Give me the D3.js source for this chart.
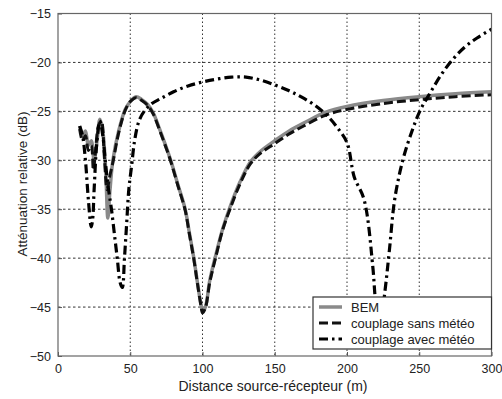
<!DOCTYPE html>
<html>
<head>
<meta charset="utf-8">
<title>Atténuation relative</title>
<script src="https://d3js.org/d3.v7.min.js"></script>
<style>
  body { margin: 0; background: #fff; }
  text { font-family: "Liberation Sans", Arial, sans-serif; fill: #222; }
</style>
</head>
<body>
<div id="chart"></div>
<script>
// donnees
let xTicks = [0, 50, 100, 150, 200, 250, 300];
let yTicks = [-50, -45, -40, -35, -30, -25, -20, -15];

let xBem = [15, 17, 19, 21, 23, 25, 27, 29, 31, 33, 34.5, 36, 38, 42, 46.5, 50, 54, 58, 62, 66, 70, 74, 78, 83, 88, 91, 94, 96.5, 99, 100,
            102, 105, 109, 114, 119, 126, 133, 140, 150, 160, 170, 185, 200, 225, 250, 275, 300];
let yBem = [-26.5, -27.5, -27, -28.5, -28, -30, -28, -25.8, -27, -31, -35.9, -33, -30, -27, -24.8, -24, -23.5, -23.8, -24.3, -25.2, -26.7, -28.3, -30, -32.5, -35, -37.5, -40, -42.5, -44.8, -45.4,
            -45, -42.3, -39.8, -37, -34.8, -32.2, -30.2, -29.1, -28, -27, -26.2, -25.1, -24.5, -23.9, -23.5, -23.2, -23.0];

let xSans = [15, 17, 19, 21, 23, 24.5, 26, 28, 30, 32, 34, 36, 38, 42, 46.5, 50, 54, 58, 62, 66, 70, 74, 78, 83, 88, 91, 94, 96.5, 99, 100,
             102, 105, 109, 114, 119, 126, 133, 140, 150, 160, 170, 185, 200, 225, 250, 275, 300];
let ySans = [-26.8, -28, -27.5, -29, -28.5, -31, -29, -26.5, -26, -29.5, -33, -31.5, -30.2, -27.2, -24.9, -24, -23.6, -23.9, -24.4, -25.3, -26.8, -28.4, -30.1, -32.6, -35.1, -37.6, -40.1, -42.6, -44.9, -45.6,
             -45.1, -42.5, -40, -37.1, -35, -32.4, -30.4, -29.3, -28.3, -27.3, -26.5, -25.4, -24.8, -24.2, -23.8, -23.5, -23.3];

let xAvec = [15, 17, 19, 21, 23, 24, 25, 27, 29, 31, 33, 35, 37, 39, 41, 43, 44.5, 46, 47.5, 49, 51, 53, 56, 59.6, 65, 71, 80, 90, 100,
             110, 120, 130, 140, 150, 160, 168, 177, 186, 193, 200, 205, 211.8, 217.8, 219.4, 222, 226.4, 229.4, 233, 238.6, 245, 251, 258, 265, 272, 281, 290, 300];
let yAvec = [-26.5, -27.5, -30, -34, -36.8, -36, -33, -28, -26, -27.5, -30.5, -33, -35, -37.5, -40, -42.5, -43, -40, -36.5, -33, -30.5, -28, -26, -25, -24.2, -23.7, -23, -22.4, -22,
             -21.7, -21.5, -21.5, -21.8, -22.3, -22.9, -23.5, -24.3, -25.4, -26.6, -28.2, -31.7, -34, -40.8, -43.9, -48, -43.2, -39.1, -34, -30, -27, -24.8, -23, -21.3, -19.9, -18.5, -17.5, -16.6];

let seriesNames = ["BEM", "couplage sans météo", "couplage avec météo"];

let margin = {top: 13.5, right: 10.5, bottom: 43, left: 58};
let W = 502, H = 399;
let w = W - margin.left - margin.right;
let h = H - margin.top - margin.bottom;

let svg = d3.select("#chart")
    .append("svg")
        .attr("width", W)
        .attr("height", H);

let g = svg.append("g")
    .attr("transform", "translate(" + margin.left + "," + margin.top + ")");

let xScale = d3.scaleLinear().domain([0, 300]).range([0, w]);
let yScale = d3.scaleLinear().domain([-50, -15]).range([h, 0]);

// grille pointillee
g.append("g")
    .selectAll("line")
    .data(xTicks.slice(1, -1))
    .enter().append("line")
    .attr("x1", d => xScale(d)).attr("x2", d => xScale(d))
    .attr("y1", 0).attr("y2", h)
    .attr("stroke", "#333").attr("stroke-width", 1)
    .attr("stroke-dasharray", "1.5,2.5");

g.append("g")
    .selectAll("line")
    .data(yTicks.slice(1, -1))
    .enter().append("line")
    .attr("y1", d => yScale(d)).attr("y2", d => yScale(d))
    .attr("x1", 0).attr("x2", w)
    .attr("stroke", "#333").attr("stroke-width", 1)
    .attr("stroke-dasharray", "2.5,2.5");

// axes
let xAxis = d3.axisBottom(xScale).tickValues(xTicks).tickSize(-4).tickPadding(8);
let yAxis = d3.axisLeft(yScale).tickValues(yTicks).tickSize(-4).tickPadding(7);

let gx = g.append("g")
    .attr("transform", "translate(0," + h + ")")
    .call(xAxis);
let gy = g.append("g").call(yAxis);

[gx, gy].forEach(function(a) {
    a.select(".domain").remove();
    a.selectAll("line").attr("stroke", "#555");
    a.selectAll("text")
        .attr("font-size", "12.5px")
        .style("font-family", "'Liberation Sans', Arial, sans-serif")
        .attr("fill", "#333");
});

// courbes
g.append("clipPath").attr("id", "clip")
    .append("rect").attr("width", w).attr("height", h);

let line = d3.line()
    .curve(d3.curveCatmullRom.alpha(0.5))
    .x(d => xScale(d[0]))
    .y(d => yScale(d[1]));

let curves = g.append("g").attr("clip-path", "url(#clip)");

curves.append("path")
    .datum(d3.zip(xBem, yBem))
    .attr("d", line)
    .attr("fill", "none")
    .attr("stroke", "#8a8a8a")
    .attr("stroke-width", 3.5)
    .attr("stroke-linejoin", "round");

curves.append("path")
    .datum(d3.zip(xSans, ySans))
    .attr("d", line)
    .attr("fill", "none")
    .attr("stroke", "#111")
    .attr("stroke-width", 3)
    .attr("stroke-dasharray", "9,4");

curves.append("path")
    .datum(d3.zip(xAvec, yAvec))
    .attr("d", line)
    .attr("fill", "none")
    .attr("stroke", "#000")
    .attr("stroke-width", 3.2)
    .attr("stroke-dasharray", "9,4,2.5,4");

// cadre
g.append("rect")
    .attr("width", w).attr("height", h)
    .attr("fill", "none")
    .attr("stroke", "#666")
    .attr("stroke-width", 1.2);

// titres des axes
svg.append("text")
    .attr("x", 273).attr("y", 391)
    .attr("text-anchor", "middle")
    .attr("font-size", "14px")
    .text("Distance source-récepteur (m)");

svg.append("text")
    .attr("transform", "translate(27,184) rotate(-90)")
    .attr("text-anchor", "middle")
    .attr("font-size", "13.5px")
    .text("Atténuation relative (dB)");

// legende
let lg = svg.append("g").attr("transform", "translate(313,297)");
lg.append("rect")
    .attr("width", 178.5).attr("height", 52)
    .attr("fill", "#fff")
    .attr("stroke", "#333").attr("stroke-width", 1.2);

let styles = [
    {stroke: "#8a8a8a", width: 3.5, dash: null},
    {stroke: "#111", width: 3, dash: "9,4"},
    {stroke: "#000", width: 3.2, dash: "9,4,2.5,4"}
];

seriesNames.forEach(function(name, i) {
    let yy = 10 + i * 16;
    lg.append("line")
        .attr("x1", 6).attr("x2", 29)
        .attr("y1", yy).attr("y2", yy)
        .attr("stroke", styles[i].stroke)
        .attr("stroke-width", styles[i].width)
        .attr("stroke-dasharray", styles[i].dash);
    lg.append("text")
        .attr("x", 38).attr("y", yy + 4.5)
        .attr("font-size", "13px")
        .text(name);
});
</script>
</body>
</html>
